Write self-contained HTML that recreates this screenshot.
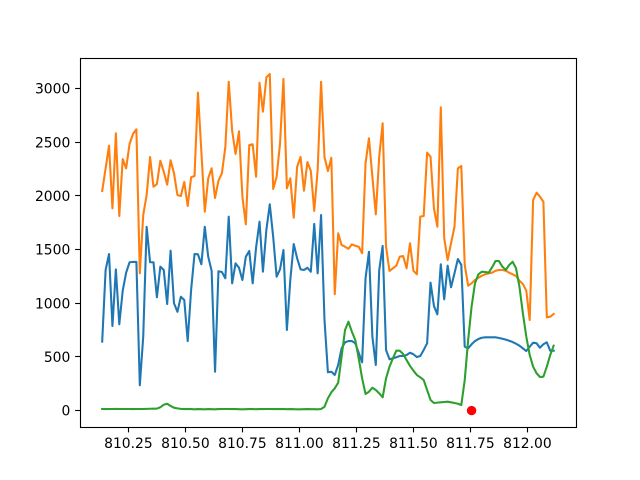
<!DOCTYPE html>
<html>
<head>
<meta charset="utf-8">
<title>Chart</title>
<style>
html,body{margin:0;padding:0;background:#fff;}
#chart{display:block;width:640px;height:480px;}
text{font-family:"DejaVu Sans",sans-serif;font-size:13.89px;fill:#000;}
</style>
</head>
<body>
<svg id="chart" xmlns="http://www.w3.org/2000/svg" width="640" height="480" viewBox="0 0 640 480"></svg>
<script>
const xValues = [810.135,810.150,810.165,810.180,810.195,810.210,810.225,810.240,810.255,810.270,810.285,810.300,810.315,810.330,810.345,810.360,810.375,810.390,810.405,810.420,810.435,810.450,810.465,810.480,810.495,810.510,810.525,810.540,810.555,810.570,810.585,810.600,810.615,810.630,810.645,810.660,810.675,810.690,810.705,810.720,810.735,810.750,810.765,810.780,810.795,810.810,810.825,810.840,810.855,810.870,810.885,810.900,810.915,810.930,810.945,810.960,810.975,810.990,811.005,811.020,811.035,811.050,811.065,811.080,811.095,811.110,811.125,811.140,811.155,811.170,811.185,811.200,811.215,811.230,811.245,811.260,811.275,811.290,811.305,811.320,811.335,811.350,811.365,811.380,811.395,811.410,811.425,811.440,811.455,811.470,811.485,811.500,811.515,811.530,811.545,811.560,811.575,811.590,811.605,811.620,811.635,811.650,811.665,811.680,811.695,811.710,811.725,811.740,811.755,811.770,811.785,811.800,811.815,811.830,811.845,811.860,811.875,811.890,811.905,811.920,811.935,811.950,811.965,811.980,811.995,812.010,812.025,812.040,812.055,812.070,812.085,812.100,812.115];
const blueValues = [642,1310,1459,788,1316,804,1117,1285,1382,1385,1385,236,689,1713,1382,1382,1056,1341,1310,993,1490,1000,921,1061,1030,648,1124,1459,1456,1363,1713,1434,1303,362,1298,1291,1233,1807,1186,1372,1331,1217,1434,1487,1186,1520,1760,1294,1683,1922,1617,1248,1316,1496,751,1217,1552,1419,1316,1310,1331,1294,1739,1279,1822,844,357,362,332,425,580,636,648,648,627,539,450,1233,1480,689,425,1310,1534,565,478,487,497,509,509,518,539,525,499,509,565,627,1192,975,897,1363,1037,1350,1149,1279,1412,1357,595,580,618,648,667,679,683,683,683,683,676,670,661,651,639,623,605,580,555,595,633,627,586,618,636,558,558];
const orangeValues = [2046,2257,2468,1885,2584,1813,2344,2257,2484,2577,2621,1279,1822,2009,2363,2086,2111,2328,2226,2105,2332,2211,2009,1999,2130,1906,2174,2186,2962,2412,1853,2164,2257,1981,2142,2211,2453,3064,2608,2391,2602,1993,1736,2475,2481,2179,3055,2785,3105,3136,2065,2179,2490,3090,2071,2164,1797,2272,2363,2049,2316,2232,1860,2242,3064,2360,2232,2356,1084,1652,1543,1527,1508,1549,1536,1527,1466,2304,2537,2179,1829,2366,2677,1527,1301,1326,1350,1434,1440,1326,1559,1303,1270,1807,1813,2403,2366,1885,1713,2826,1605,1403,1559,1713,2257,2279,1357,1164,1186,1217,1238,1257,1270,1279,1285,1303,1310,1310,1303,1285,1270,1254,1210,1180,1117,844,1962,2030,1993,1946,869,875,900];
const greenValues = [15,14,15,15,16,15,15,15,15,14,15,15,15,16,17,18,19,31,55,64,43,27,21,16,14,15,14,12,14,13,12,14,13,12,14,15,15,15,14,14,13,12,13,14,14,13,14,14,15,15,14,14,14,14,13,14,13,12,12,13,14,13,13,12,15,36,115,170,208,260,502,751,828,735,658,487,301,155,176,213,192,161,124,301,409,487,558,558,527,471,416,372,332,310,285,192,99,71,74,77,80,83,77,71,64,52,285,658,968,1186,1270,1294,1291,1285,1335,1394,1394,1341,1310,1357,1387,1326,1154,907,689,518,409,348,313,316,409,518,605];
const pointX = [811.755];
const pointY = [0];
const xTickValues = [810.25,810.5,810.75,811,811.25,811.5,811.75,812];
const xTickLabels = ["810.25","810.50","810.75","811.00","811.25","811.50","811.75","812.00"];
const yTickValues = [0,500,1000,1500,2000,2500,3000];
const yTickLabels = ["0","500","1000","1500","2000","2500","3000"];

const NS = "http://www.w3.org/2000/svg";
const svg = document.getElementById("chart");
const L = 80, R = 576, T = 57.6, B = 427.2;
const xMin = 810.0377, xMax = 812.213, yMin = -154.7, yMax = 3289;
function sx(v){ return L + (v - xMin) / (xMax - xMin) * (R - L); }
function sy(v){ return B - (v - yMin) / (yMax - yMin) * (B - T); }
function make(tag, attrs){
  const e = document.createElementNS(NS, tag);
  for (const k in attrs) e.setAttribute(k, attrs[k]);
  return e;
}
const bg = make("rect", {x:0, y:0, width:640, height:480, fill:"#fff"});


svg.appendChild(bg);

function drawLine(xs, ys, color){
  const d = xs.map((x,i)=>(i?"L":"M")+sx(x).toFixed(2)+" "+sy(ys[i]).toFixed(2)).join(" ");
  return make("path", {d:d, fill:"none", stroke:color, "stroke-width":2.08, "stroke-linejoin":"round", "stroke-linecap":"square"});
}
const blue = drawLine(xValues, blueValues, "#1f77b4");


svg.appendChild(blue);
const orange = drawLine(xValues, orangeValues, "#ff7f0e");


svg.appendChild(orange);
const green = drawLine(xValues, greenValues, "#2ca02c");


svg.appendChild(green);

pointX.forEach((x,i)=>{
  const c = make("circle", {cx:sx(x), cy:sy(pointY[i]), r:4.7, fill:"#ff0000"});
  
  
  svg.appendChild(c);
});

xTickValues.forEach((v,i)=>{
  const px = Math.floor(sx(v)) + 0.5;
  const t = make("line", {x1:px, x2:px, y1:427, y2:432.4, stroke:"#000", "stroke-width":1.11});
  
  
  svg.appendChild(t);
  const lab = make("text", {x:sx(v), y:448, "text-anchor":"middle"});
  lab.textContent = xTickLabels[i];
  
  
  svg.appendChild(lab);
});
yTickValues.forEach((v,i)=>{
  const py = Math.floor(sy(v)) + 0.5;
  const t = make("line", {x1:75.1, x2:80, y1:py, y2:py, stroke:"#000", "stroke-width":1.11});
  
  
  svg.appendChild(t);
  const lab = make("text", {x:70.3, y:sy(v)+5.1, "text-anchor":"end"});
  lab.textContent = yTickLabels[i];
  
  
  svg.appendChild(lab);
});
const frame = make("rect", {x:80.5, y:58.5, width:496, height:369, fill:"none", stroke:"#000", "stroke-width":1.11, "stroke-linejoin":"miter"});


svg.appendChild(frame);
</script>
</body>
</html>
